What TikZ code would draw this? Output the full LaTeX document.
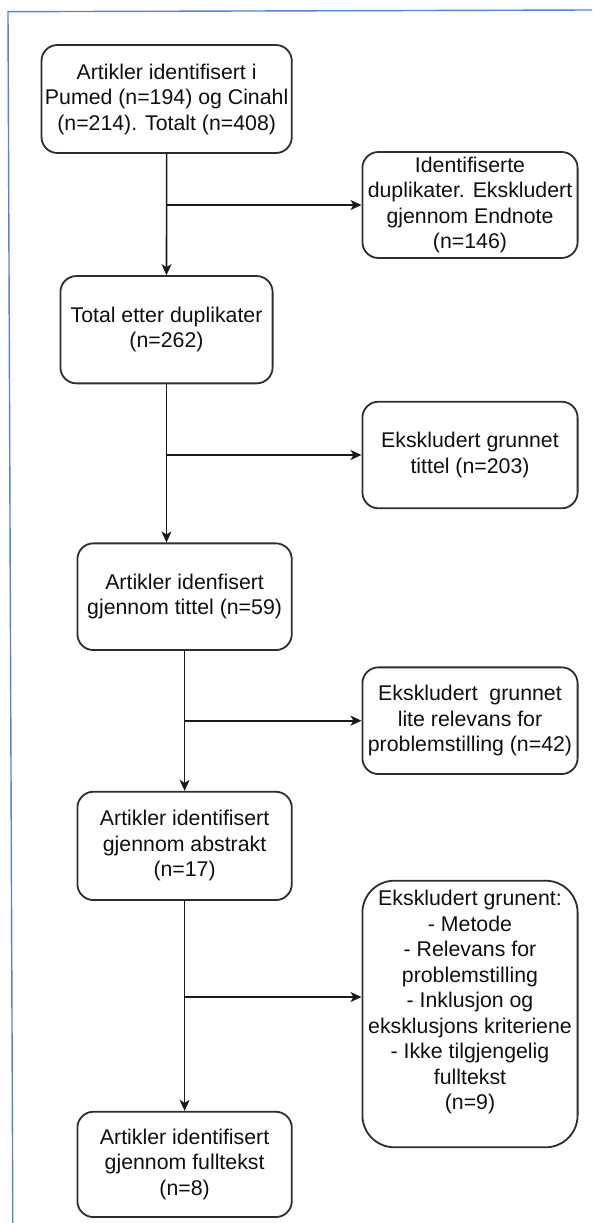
\documentclass[tikz,border=0pt]{standalone}
\usepackage{fontspec}
\setmainfont{Liberation Sans}
\usetikzlibrary{arrows.meta}
\definecolor{frameblue}{RGB}{85,130,215}
\definecolor{boxline}{RGB}{45,45,45}
\definecolor{txt}{RGB}{15,15,15}
\tikzset{
  box/.style={draw=boxline, line width=1.8pt, rounded corners=16pt, align=center,
    inner sep=0pt, text=txt, font=\fontsize{21.3}{25.5}\selectfont},
  plaintext/.style={align=center, inner sep=0pt, text=txt, font=\fontsize{21.3}{25.5}\selectfont},
  conn/.style={draw=black!90, line width=1.6pt, -{Stealth[length=11pt,width=10pt,inset=3pt]}},
  frame/.style={draw=frameblue, line width=1.4pt}
}
\begin{document}
\begin{tikzpicture}[x=1pt,y=-1pt]
\useasboundingbox (0,0) rectangle (592,1223);
% frame
\coordinate (f1) at (592,10);
\coordinate (f2) at (8,11.7);
\coordinate (f3) at (12.8,1223);
\draw[frame] (f1) -- (f2) -- (f3);
% main boxes
\node[box, minimum width=250.3pt, minimum height=108pt] (B1) at (166.65,99)
  {Artikler identifisert i\\Pumed (n=194) og Cinahl\\(n=214). Totalt (n=408)};
\node[box, minimum width=212.2pt, minimum height=107.3pt] (B2) at (166.5,329.7)
  {Total etter duplikater\\(n=262)};
\node[box, minimum width=214.4pt, minimum height=106.7pt] (B3) at (184.6,596.7)
  {Artikler idenfisert\\gjennom tittel (n=59)};
\node[box, minimum width=214.4pt, minimum height=108.3pt] (B4) at (184.6,845.9)
  {Artikler identifisert\\gjennom abstrakt\\(n=17)};
\node[box, minimum width=214.4pt, minimum height=105.3pt] (B5) at (184.6,1164.4)
  {Artikler identifisert\\gjennom fulltekst\\(n=8)};
% side boxes
\node[box, minimum width=215.2pt, minimum height=106pt] (S1) at (470,205)
  {Identifiserte\\duplikater. Ekskludert\\gjennom Endnote\\(n=146)};
\node[box, minimum width=215.2pt, minimum height=106.6pt] (S2) at (470,455)
  {Ekskludert grunnet\\tittel (n=203)};
\node[box, minimum width=215.2pt, minimum height=106.7pt] (S3) at (470,720.7)
  {Ekskludert\ \ grunnet\\lite relevans for\\problemstilling (n=42)};
\node[box, rounded corners=32pt, minimum width=215.2pt, minimum height=266.6pt] (S4) at (470,1014) {};
\node[plaintext] (S4t) at (470,1002)
  {Ekskludert grunent:\\- Metode\\- Relevans for\\problemstilling\\- Inklusjon og\\eksklusjons kriteriene\\- Ikke tilgjengelig\\fulltekst\\(n=9)};
% main flow
\draw[conn] (B1.south) -- (B2.north);
\draw[conn] (B2.south) -- (B2.south |- B3.north);
\draw[conn] (B3.south) -- (B4.north);
\draw[conn] (B4.south) -- (B5.north);
% branches
\coordinate (j1) at (B1.south |- S1.west);
\coordinate (j2) at (B2.south |- S2.west);
\coordinate (j3) at (B3.south |- S3.west);
\coordinate (j4) at (184.6,997);
\draw[conn] (j1) -- (S1.west);
\draw[conn] (j2) -- (S2.west);
\draw[conn] (j3) -- (S3.west);
\draw[conn] (j4) -- (j4 -| S4.west);
\end{tikzpicture}
\end{document}
